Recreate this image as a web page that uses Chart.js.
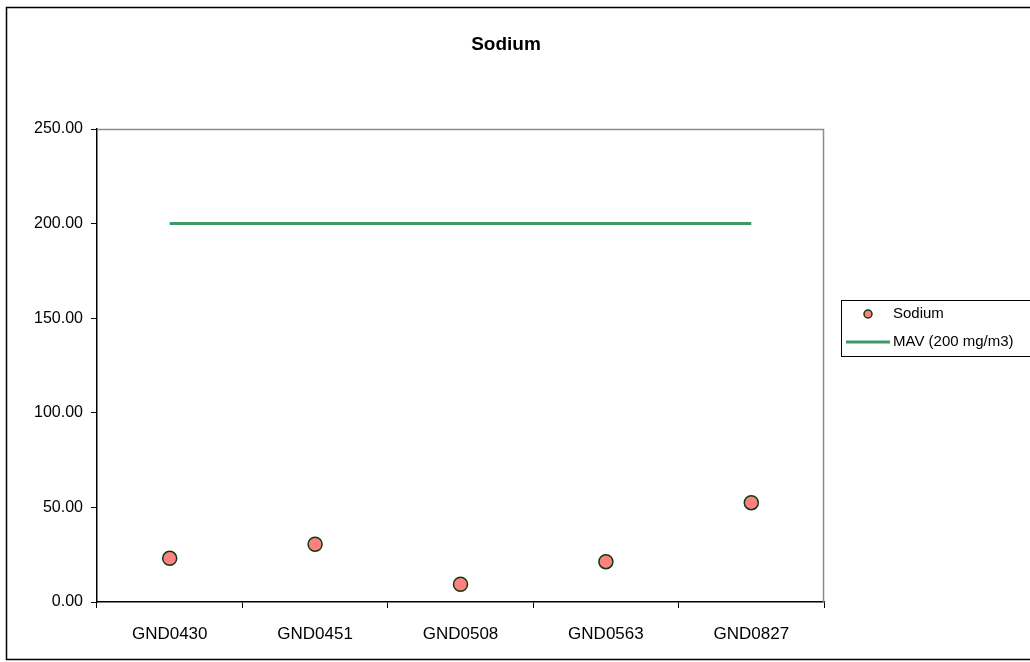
<!DOCTYPE html>
<html>
<head>
<meta charset="utf-8">
<script src="https://cdn.jsdelivr.net/npm/chart.js@4.4.1/dist/chart.umd.min.js"></script>
<style>
  html, body { margin: 0; padding: 0; background: #fff; }
  #wrap { position: relative; width: 1030px; height: 662px; }
  canvas { display: block; }
</style>
</head>
<body>
<div id="wrap"><canvas id="c" width="1030" height="662"></canvas></div>
<script>
// Sample sites and measured sodium concentrations
const sites = ['GND0430', 'GND0451', 'GND0508', 'GND0563', 'GND0827'];
const sodium = [23.1, 30.5, 9.4, 21.3, 52.5];
// Maximum acceptable value drawn as a reference line
const mavLevel = 200;
const mav = sites.map(() => mavLevel);
const yTicks = [0, 50, 100, 150, 200, 250];

const FONT = '"Liberation Sans", Arial, sans-serif';

// Frame, title, plot-area border and boxed legend
const decor = {
  id: 'decor',
  beforeDraw(chart) {
    const ctx = chart.ctx;
    ctx.save();
    ctx.fillStyle = '#fff';
    ctx.fillRect(0, 0, chart.width, chart.height);
    ctx.restore();
  },
  afterDraw(chart) {
    const ctx = chart.ctx;
    const a = chart.chartArea;
    ctx.save();
    // outer frame
    ctx.strokeStyle = '#000';
    ctx.lineWidth = 1.5;
    ctx.strokeRect(6.5, 7.5, 1030, 652);
    // plot area border (top and right)
    ctx.strokeStyle = '#8c8c8c';
    ctx.lineWidth = 1.5;
    ctx.beginPath();
    ctx.moveTo(a.left, a.top + 0.5);
    ctx.lineTo(a.right - 0.5, a.top + 0.5);
    ctx.lineTo(a.right - 0.5, a.bottom);
    ctx.stroke();
    // title
    ctx.fillStyle = '#000';
    ctx.font = 'bold 19px ' + FONT;
    ctx.textAlign = 'center';
    ctx.textBaseline = 'middle';
    ctx.fillText('Sodium', 506, 45);
    // legend
    const lx = 841, ly = 300, lw = 200, lh = 56;
    ctx.strokeStyle = '#000';
    ctx.lineWidth = 1;
    ctx.strokeRect(lx + 0.5, ly + 0.5, lw, lh);
    ctx.font = '15px ' + FONT;
    ctx.textAlign = 'left';
    const ds = chart.data.datasets;
    // point entry
    let y = ly + 14;
    ctx.beginPath();
    ctx.arc(lx + 27, y, 4, 0, Math.PI * 2);
    ctx.fillStyle = ds[0].backgroundColor;
    ctx.fill();
    ctx.strokeStyle = ds[0].borderColor;
    ctx.lineWidth = 1.5;
    ctx.stroke();
    ctx.fillStyle = '#000';
    ctx.fillText(ds[0].label, lx + 52, y);
    // line entry
    y = ly + 42;
    ctx.beginPath();
    ctx.moveTo(lx + 5, y);
    ctx.lineTo(lx + 49, y);
    ctx.strokeStyle = ds[1].borderColor;
    ctx.lineWidth = 3;
    ctx.stroke();
    ctx.fillStyle = '#000';
    ctx.fillText(ds[1].label, lx + 52, y);
    ctx.restore();
  }
};

new Chart(document.getElementById('c'), {
  type: 'line',
  data: {
    labels: sites,
    datasets: [
      {
        label: 'Sodium',
        data: sodium,
        showLine: false,
        pointRadius: 7,
        pointHoverRadius: 7,
        pointBorderWidth: 1.5,
        backgroundColor: '#ff8080',
        borderColor: '#0b3d0b',
        pointBackgroundColor: '#ff8080',
        pointBorderColor: '#0b3d0b',
        order: 0
      },
      {
        label: 'MAV (200 mg/m3)',
        data: mav,
        borderColor: '#3d9a66',
        backgroundColor: '#3d9a66',
        borderWidth: 3,
        pointRadius: 0,
        fill: false,
        order: 1
      }
    ]
  },
  options: {
    responsive: false,
    animation: false,
    events: [],
    layout: { padding: { left: 0, top: 129, right: 206, bottom: 0 } },
    plugins: {
      legend: { display: false },
      title: { display: false },
      tooltip: { enabled: false }
    },
    scales: {
      x: {
        type: 'category',
        offset: true,
        grid: { display: true, offset: true, drawOnChartArea: false, drawTicks: true, tickLength: 6, color: '#000', lineWidth: 1 },
        border: { display: true, color: '#000', width: 1.5 },
        ticks: { color: '#000', font: { family: FONT, size: 17 }, padding: 16, maxRotation: 0 },
        afterFit(scale) { scale.height = 662 - 602; }
      },
      y: {
        min: 0,
        max: 250,
        afterBuildTicks(scale) { scale.ticks = yTicks.map(v => ({ value: v })); },
        grid: { display: true, drawOnChartArea: false, drawTicks: true, tickLength: 6, color: '#000', lineWidth: 1 },
        border: { display: true, color: '#000', width: 1.5 },
        ticks: {
          color: '#000',
          font: { family: FONT, size: 16 },
          padding: 8,
          callback: v => Number(v).toFixed(2)
        },
        afterFit(scale) { scale.width = 97; }
      }
    }
  },
  plugins: [decor]
});
</script>
</body>
</html>
